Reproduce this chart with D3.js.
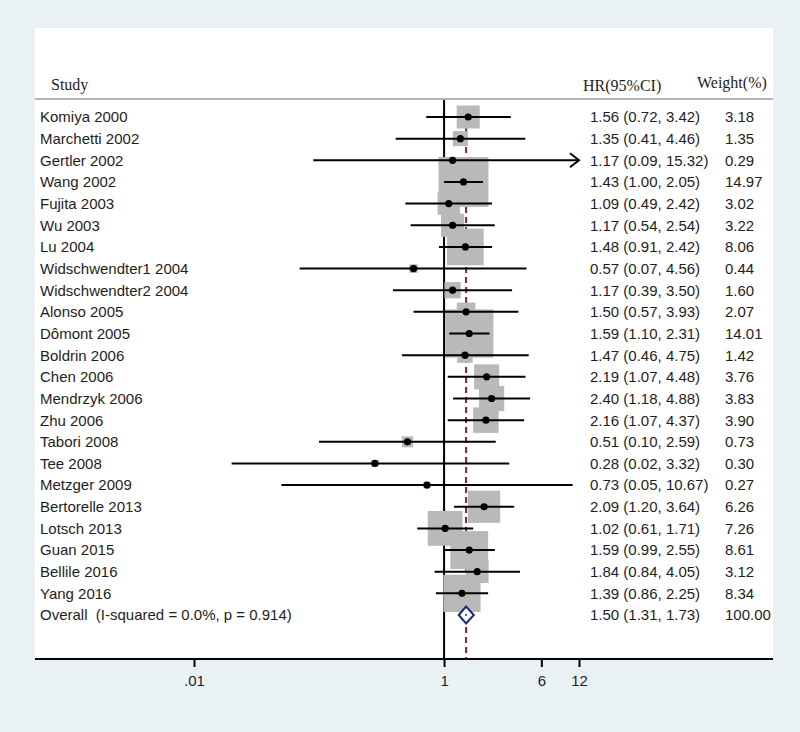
<!DOCTYPE html>
<html>
<head>
<meta charset="utf-8">
<script src="https://cdn.jsdelivr.net/npm/d3@7"></script>
<style>
  html, body { margin: 0; padding: 0; background: #e9f1f5; }
  svg { display: block; }
</style>
</head>
<body>
<svg id="chart" width="800" height="732"></svg>
<script>
// ---- data ----
const studies = ["Komiya 2000","Marchetti 2002","Gertler 2002","Wang 2002","Fujita 2003","Wu 2003","Lu 2004",
  "Widschwendter1 2004","Widschwendter2 2004","Alonso 2005","Dômont 2005","Boldrin 2006","Chen 2006",
  "Mendrzyk 2006","Zhu 2006","Tabori 2008","Tee 2008","Metzger 2009","Bertorelle 2013","Lotsch 2013",
  "Guan 2015","Bellile 2016","Yang 2016"];
const hr    = [1.56,1.35,1.17,1.43,1.09,1.17,1.48,0.57,1.17,1.50,1.59,1.47,2.19,2.40,2.16,0.51,0.28,0.73,2.09,1.02,1.59,1.84,1.39];
const lower = [0.72,0.41,0.09,1.00,0.49,0.54,0.91,0.07,0.39,0.57,1.10,0.46,1.07,1.18,1.07,0.10,0.02,0.05,1.20,0.61,0.99,0.84,0.86];
const upper = [3.42,4.46,15.32,2.05,2.42,2.54,2.42,4.56,3.50,3.93,2.31,4.75,4.48,4.88,4.37,2.59,3.32,10.67,3.64,1.71,2.55,4.05,2.25];
const weight= [3.18,1.35,0.29,14.97,3.02,3.22,8.06,0.44,1.60,2.07,14.01,1.42,3.76,3.83,3.90,0.73,0.30,0.27,6.26,7.26,8.61,3.12,8.34];
const overallLabel = "Overall  (I-squared = 0.0%, p = 0.914)";
const overall = {hr: 1.50, lower: 1.31, upper: 1.73, weight: 100.00};
const tickValues = [0.01, 1, 6, 12];
const tickLabels = [".01", "1", "6", "12"];

// ---- layout ----
const svg = d3.select("#chart");
const panel = {x0: 35, x1: 773, y0: 28, y1: 659};
const x = d3.scaleLog().domain([0.01, 12]).range([194, 579]);
const xMax = 12;
const nRows = studies.length + 1;
const y = d3.scaleLinear().domain([0, nRows - 1]).range([117, 615]);
const boxK = 12.9;

const sans = "'Liberation Sans', Arial, sans-serif";
const serif = "'Liberation Serif', 'Times New Roman', serif";
const txt = "#1e1e1e";

// white panel
svg.append("rect").attr("x", panel.x0).attr("y", panel.y0)
  .attr("width", panel.x1 - panel.x0).attr("height", panel.y1 - panel.y0).attr("fill", "#ffffff");

// header
svg.append("text").attr("x", 51).attr("y", 90).attr("font-family", serif).attr("font-size", 16)
  .attr("fill", txt).text("Study");
svg.append("text").attr("x", 583).attr("y", 91).attr("font-family", serif).attr("font-size", 16)
  .attr("fill", txt).text("HR(95%CI)");
svg.append("text").attr("x", 697).attr("y", 88).attr("font-family", serif).attr("font-size", 16)
  .attr("fill", txt).text("Weight(%)");
svg.append("line").attr("x1", panel.x0).attr("x2", panel.x1).attr("y1", 99).attr("y2", 99)
  .attr("stroke", "#9a9a9a").attr("stroke-width", 1.5);

// reference line at 1
svg.append("line").attr("x1", x(1)).attr("x2", x(1)).attr("y1", 100).attr("y2", panel.y1)
  .attr("stroke", "#000").attr("stroke-width", 2);
// overall dashed line
svg.append("line").attr("x1", x(overall.hr)).attr("x2", x(overall.hr)).attr("y1", y(0) - 10).attr("y2", panel.y1)
  .attr("stroke", "#8b2332").attr("stroke-width", 2).attr("stroke-dasharray", "6,4");

const rows = studies.map((s, i) => ({name: s, hr: hr[i], lo: lower[i], hi: upper[i], w: weight[i], i}));

// boxes
svg.append("g").selectAll("rect").data(rows).join("rect")
  .attr("x", d => x(d.hr) - boxK * Math.sqrt(d.w) / 2)
  .attr("y", d => y(d.i) - boxK * Math.sqrt(d.w) / 2)
  .attr("width", d => boxK * Math.sqrt(d.w))
  .attr("height", d => boxK * Math.sqrt(d.w))
  .attr("fill", "#b9b9b9");

// CI lines
svg.append("g").selectAll("line").data(rows).join("line")
  .attr("x1", d => x(d.lo)).attr("x2", d => x(Math.min(d.hi, xMax)))
  .attr("y1", d => y(d.i)).attr("y2", d => y(d.i))
  .attr("stroke", "#000").attr("stroke-width", 2);

// arrows for truncated CIs
svg.append("g").selectAll("path").data(rows.filter(d => d.hi > xMax)).join("path")
  .attr("d", d => { const tx = x(xMax), ty = y(d.i); return `M${tx-9},${ty-7}L${tx},${ty}L${tx-9},${ty+7}`; })
  .attr("fill", "none").attr("stroke", "#000").attr("stroke-width", 2);

// point estimates
svg.append("g").selectAll("circle").data(rows).join("circle")
  .attr("cx", d => x(d.hr)).attr("cy", d => y(d.i)).attr("r", 3.6).attr("fill", "#000");

// overall diamond
const oy = y(nRows - 1);
svg.append("path")
  .attr("d", `M${x(overall.lower)},${oy}L${x(overall.hr)},${oy-8.5}L${x(overall.upper)},${oy}L${x(overall.hr)},${oy+8.5}Z`)
  .attr("fill", "#fff").attr("stroke", "#1c2a6e").attr("stroke-width", 2);
svg.append("circle").attr("cx", x(overall.hr)).attr("cy", oy).attr("r", 1).attr("fill", "#1c2a6e");

// study labels
const labels = studies.concat([overallLabel]);
svg.append("g").selectAll("text").data(labels).join("text")
  .attr("x", 40).attr("y", (d, i) => y(i)).attr("dy", "0.36em")
  .attr("font-family", sans).attr("font-size", 15).attr("fill", txt)
  .attr("xml:space", "preserve").style("white-space", "pre")
  .text(d => d);

// HR text
const hrRows = rows.map(d => ({hr: d.hr, lo: d.lo, hi: d.hi, w: d.w})).concat([{hr: overall.hr, lo: overall.lower, hi: overall.upper, w: overall.weight}]);
svg.append("g").selectAll("text").data(hrRows).join("text")
  .attr("x", 590).attr("y", (d, i) => y(i)).attr("dy", "0.36em")
  .attr("font-family", sans).attr("font-size", 15).attr("fill", txt)
  .text(d => `${d.hr.toFixed(2)} (${d.lo.toFixed(2)}, ${d.hi.toFixed(2)})`);
svg.append("g").selectAll("text").data(hrRows).join("text")
  .attr("x", 725).attr("y", (d, i) => y(i)).attr("dy", "0.36em")
  .attr("font-family", sans).attr("font-size", 15).attr("fill", txt)
  .text(d => d.w.toFixed(2));

// x axis
svg.append("line").attr("x1", panel.x0).attr("x2", panel.x1).attr("y1", panel.y1).attr("y2", panel.y1)
  .attr("stroke", "#000").attr("stroke-width", 2);
const axis = d3.axisBottom(x).tickValues(tickValues).tickSize(8).tickSizeOuter(0)
  .tickFormat((d, i) => tickLabels[i]);
const ax = svg.append("g").attr("transform", `translate(0,${panel.y1})`).call(axis);
ax.select(".domain").remove();
ax.selectAll(".tick line").attr("stroke", "#000").attr("stroke-width", 2);
ax.selectAll(".tick text").attr("font-family", sans).attr("font-size", 15).attr("fill", txt).attr("dy", "1.05em");
</script>
</body>
</html>
